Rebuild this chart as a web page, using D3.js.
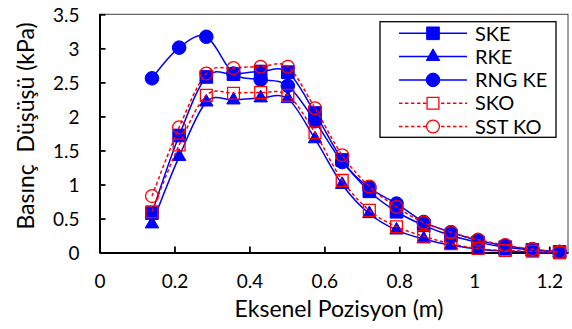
<!DOCTYPE html>
<html>
<head>
<meta charset="utf-8">
<script src="https://cdn.jsdelivr.net/npm/d3@7"></script>
<style>
  html, body { margin: 0; padding: 0; background: #fff; }
  svg { display: block; }
  text { font-family: Lato, "Open Sans", sans-serif; fill: #000; }
</style>
</head>
<body>
<svg id="chart" width="572" height="329"></svg>
<script>
// ---- data ----
const positions = [0.14, 0.2125, 0.285, 0.3575, 0.43, 0.5025, 0.575, 0.6475, 0.72, 0.7925, 0.865, 0.9375, 1.01, 1.0825, 1.155, 1.2275];
const ske   = [0.58, 1.72, 2.58, 2.62, 2.66, 2.65, 2.05, 1.36, 0.90, 0.60, 0.40, 0.25, 0.15, 0.08, 0.04, 0.01];
const rke   = [0.42, 1.41, 2.21, 2.24, 2.27, 2.26, 1.67, 1.00, 0.57, 0.33, 0.20, 0.11, 0.05, 0.02, 0.01, 0.00];
const rngke = [2.56, 3.01, 3.17, 2.63, 2.54, 2.45, 1.93, 1.33, 0.95, 0.72, 0.45, 0.30, 0.18, 0.10, 0.05, 0.01];
const sko   = [0.60, 1.58, 2.31, 2.34, 2.35, 2.31, 1.76, 1.06, 0.62, 0.38, 0.24, 0.13, 0.06, 0.03, 0.02, 0.00];
const sstko = [0.83, 1.84, 2.63, 2.71, 2.73, 2.73, 2.12, 1.43, 0.97, 0.67, 0.44, 0.30, 0.19, 0.11, 0.05, 0.01];
const seriesNames = ["SKE", "RKE", "RNG KE", "SKO", "SST KO"];
const xTicks = [0, 0.2, 0.4, 0.6, 0.8, 1, 1.2];
const yTicks = [0, 0.5, 1, 1.5, 2, 2.5, 3, 3.5];
const xTitle = "Eksenel Pozisyon (m)";
const yTitle = "Basınç  Düşüşü (kPa)";

// ---- styles ----
const styles = [
  { data: ske,   color: "#0000FF", dash: null,      sym: d3.symbolSquare,   size: 160, fill: true },
  { data: rke,   color: "#0000FF", dash: null,      sym: d3.symbolTriangle, size: 78,  fill: true },
  { data: rngke, color: "#0000FF", dash: null,      sym: d3.symbolCircle,   size: 145, fill: true },
  { data: sko,   color: "#FF0000", dash: "3.5,2.5", sym: d3.symbolSquare,   size: 140, fill: false },
  { data: sstko, color: "#FF0000", dash: "3.5,2.5", sym: d3.symbolCircle,   size: 130, fill: false }
];

const svg = d3.select("#chart");
svg.append("rect").attr("width", 572).attr("height", 329).attr("fill", "#fff");

const pLeft = 99.5, pRight = 568, pTop = 14.3, pBottom = 252.6;
const x = d3.scaleLinear().domain([0, 1.25]).range([pLeft, pRight]);
const y = d3.scaleLinear().domain([0, 3.5]).range([pBottom, pTop]);

// plot area border
svg.append("rect")
  .attr("x", pLeft).attr("y", pTop)
  .attr("width", pRight - pLeft).attr("height", pBottom - pTop)
  .attr("fill", "none").attr("stroke", "#404040").attr("stroke-width", 1);

// axes
const xAxis = d3.axisBottom(x).tickValues(xTicks).tickSizeInner(-6).tickSizeOuter(0)
  .tickFormat(d => String(d));
const yAxis = d3.axisLeft(y).tickValues(yTicks).tickSizeInner(-6).tickSizeOuter(0)
  .tickFormat(d => String(d));

const gx = svg.append("g").attr("transform", `translate(0,${pBottom})`).call(xAxis);
gx.select(".domain").attr("stroke", "#000").attr("stroke-width", 2);
gx.selectAll(".tick line").attr("stroke", "#000").attr("stroke-width", 1.8);
gx.selectAll(".tick text").attr("y", 35).attr("dy", 0).attr("font-size", 19)
  .attr("font-family", "Lato").attr("fill", "#000");

const gy = svg.append("g").attr("transform", `translate(${pLeft},0)`).call(yAxis);
gy.select(".domain").attr("stroke", "#000").attr("stroke-width", 2);
gy.selectAll(".tick line").attr("stroke", "#000").attr("stroke-width", 1.8);
gy.selectAll(".tick text").attr("x", -20).attr("dy", "0.36em").attr("font-size", 19)
  .attr("font-family", "Lato").attr("fill", "#000");

// titles
svg.append("text").attr("x", 339).attr("y", 316.5).attr("text-anchor", "middle")
  .attr("font-size", 23).text(xTitle);
svg.append("text").attr("transform", "translate(34,126) rotate(-90)")
  .attr("text-anchor", "middle").attr("font-size", 23)
  .style("white-space", "pre").attr("xml:space", "preserve").text(yTitle);

// series
const line = d3.line().x((d, i) => x(positions[i])).y(d => y(d)).curve(d3.curveCatmullRom.alpha(0));
const plot = svg.append("g");
styles.forEach(s => {
  const g = plot.append("g");
  g.append("path").datum(s.data).attr("d", line)
    .attr("fill", "none").attr("stroke", s.color).attr("stroke-width", 1.5)
    .attr("stroke-dasharray", s.dash);
  g.selectAll("path.m").data(s.data).join("path").attr("class", "m")
    .attr("transform", (d, i) => `translate(${x(positions[i])},${y(d)})`)
    .attr("d", d3.symbol().type(s.sym).size(s.size))
    .attr("fill", s.fill ? s.color : "none")
    .attr("stroke", s.color).attr("stroke-width", s.fill ? 1 : 1.3);
});

// legend
const lg = svg.append("g");
lg.append("rect").attr("x", 380).attr("y", 21.7).attr("width", 176).attr("height", 115.6)
  .attr("fill", "#fff").attr("stroke", "#000").attr("stroke-width", 1.3);
styles.forEach((s, i) => {
  const ry = 33.3 + i * 23.3;
  lg.append("line").attr("x1", 399).attr("x2", 467).attr("y1", ry).attr("y2", ry)
    .attr("stroke", s.color).attr("stroke-width", 1.5).attr("stroke-dasharray", s.dash);
  lg.append("path").attr("transform", `translate(433,${ry})`)
    .attr("d", d3.symbol().type(s.sym).size(s.size))
    .attr("fill", s.fill ? s.color : "#fff")
    .attr("stroke", s.color).attr("stroke-width", s.fill ? 1 : 1.3);
  lg.append("text").attr("x", 475).attr("y", ry).attr("dy", "0.36em")
    .attr("font-size", 20).text(seriesNames[i]);
});
</script>
</body>
</html>
